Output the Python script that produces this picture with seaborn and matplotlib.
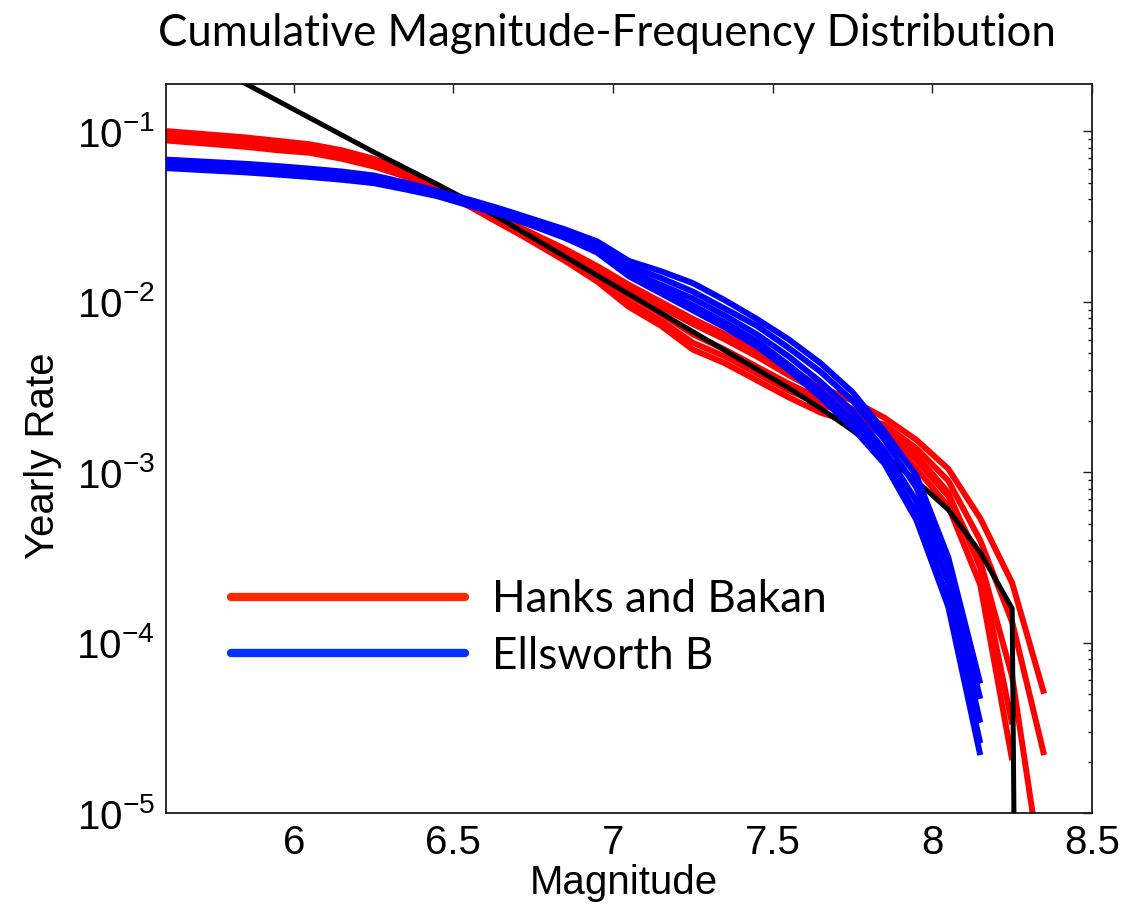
import numpy as np
import pandas as pd
import matplotlib
matplotlib.use("Agg")
import matplotlib.pyplot as plt
import seaborn as sns
from matplotlib.lines import Line2D
from matplotlib.ticker import (LogLocator, LogFormatterMathtext, FixedLocator,
                               FormatStrFormatter, NullFormatter, NullLocator)

# ---------------- data (log10 of yearly rate) ----------------
mag_grid = [5.55, 5.65, 5.75, 5.85, 5.95, 6.05, 6.15, 6.25, 6.35, 6.45,
            6.55, 6.65, 6.75, 6.85, 6.95, 7.05, 7.15, 7.25, 7.35, 7.45,
            7.55, 7.65, 7.75, 7.85, 7.95, 8.05, 8.15, 8.25, 8.35]

# Hanks and Bakan runs (red)
hb_log_run1 = [-0.99, -1.005, -1.02, -1.035, -1.055, -1.075, -1.11, -1.16, -1.23, -1.32,
               -1.41, -1.51, -1.60, -1.69, -1.79, -1.90, -2.00, -2.10, -2.19, -2.29,
               -2.39, -2.50, -2.58, -2.68, -2.81, -2.98, -3.27, -3.65, -4.30]
hb_log_run2 = [-1.02, -1.035, -1.05, -1.065, -1.085, -1.10, -1.135, -1.185, -1.25, -1.335,
               -1.425, -1.53, -1.64, -1.75, -1.87, -2.00, -2.11, -2.24, -2.32, -2.42,
               -2.52, -2.60, -2.67, -2.72, -2.86, -3.05, -3.40, -3.88, -4.66]
hb_log_run3 = [-1.00, -1.015, -1.03, -1.045, -1.065, -1.085, -1.12, -1.17, -1.24, -1.325,
               -1.415, -1.52, -1.62, -1.71, -1.82, -1.93, -2.03, -2.13, -2.22, -2.32,
               -2.43, -2.53, -2.63, -2.76, -2.93, -3.14, -3.52, -4.20, -5.45]
hb_log_run4 = [-1.03, -1.045, -1.06, -1.075, -1.095, -1.115, -1.15, -1.20, -1.26, -1.345,
               -1.435, -1.54, -1.65, -1.76, -1.88, -2.03, -2.14, -2.28, -2.36, -2.46,
               -2.56, -2.65, -2.71, -2.75, -2.90, -3.12, -3.56, -4.48, None]
hb_log_run5 = [-1.045, -1.06, -1.075, -1.09, -1.11, -1.125, -1.16, -1.205, -1.265, -1.35,
               -1.44, -1.545, -1.645, -1.74, -1.85, -1.96, -2.07, -2.19, -2.28, -2.38,
               -2.48, -2.57, -2.66, -2.79, -2.98, -3.20, -3.66, -4.69, None]

# Ellsworth B runs (blue)
ell_log_run1 = [-1.16, -1.17, -1.18, -1.19, -1.203, -1.218, -1.235, -1.258, -1.30, -1.35,
                -1.40, -1.455, -1.515, -1.575, -1.645, -1.76, -1.82, -1.89, -1.99, -2.10,
                -2.22, -2.36, -2.53, -2.76, -3.02, -3.50, -4.24, None, None]
ell_log_run2 = [-1.175, -1.185, -1.195, -1.205, -1.218, -1.232, -1.248, -1.27, -1.31, -1.36,
                -1.415, -1.47, -1.535, -1.60, -1.67, -1.79, -1.86, -1.94, -2.04, -2.14,
                -2.27, -2.41, -2.58, -2.81, -3.09, -3.56, -4.33, None, None]
ell_log_run3 = [-1.19, -1.20, -1.21, -1.22, -1.233, -1.247, -1.263, -1.283, -1.322, -1.37,
                -1.425, -1.48, -1.545, -1.61, -1.69, -1.82, -1.90, -1.98, -2.08, -2.19,
                -2.32, -2.47, -2.64, -2.87, -3.17, -3.65, -4.47, None, None]
ell_log_run4 = [-1.20, -1.21, -1.22, -1.23, -1.243, -1.257, -1.273, -1.293, -1.33, -1.375,
                -1.43, -1.485, -1.55, -1.62, -1.70, -1.83, -1.93, -2.02, -2.12, -2.23,
                -2.37, -2.52, -2.69, -2.92, -3.24, -3.75, -4.59, None, None]
ell_log_run5 = [-1.21, -1.22, -1.23, -1.24, -1.253, -1.267, -1.283, -1.303, -1.34, -1.38,
                -1.435, -1.49, -1.555, -1.625, -1.71, -1.85, -1.95, -2.05, -2.15, -2.26,
                -2.40, -2.56, -2.74, -2.95, -3.28, -3.79, -4.66, None, None]

# Reference (black) curve
ref_mag = [5.55, 5.65, 5.75, 5.85, 5.95, 6.05, 6.15, 6.25, 6.35, 6.45,
           6.55, 6.65, 6.75, 6.85, 6.95, 7.05, 7.15, 7.25, 7.35, 7.45,
           7.55, 7.65, 7.75, 7.85, 7.95, 8.05, 8.15, 8.25, 8.26]
ref_log = [-0.42, -0.52, -0.62, -0.72, -0.82, -0.92, -1.02, -1.12, -1.215, -1.31,
           -1.41, -1.515, -1.625, -1.735, -1.845, -1.955, -2.065, -2.175, -2.285, -2.395,
           -2.505, -2.625, -2.755, -2.90, -3.05, -3.22, -3.47, -3.80, -6.0]

legend_labels = ["Hanks and Bakan", "Ellsworth B"]
x_ticks = [6, 6.5, 7, 7.5, 8, 8.5]
y_ticks = [1e-5, 1e-4, 1e-3, 1e-2, 1e-1]


def to_frame(runs, name):
    rows = []
    for k, run in enumerate(runs):
        for m, v in zip(mag_grid, run):
            if v is not None:
                rows.append({"magnitude": m, "rate": 10.0 ** v, "run": f"{name}{k}"})
    return pd.DataFrame(rows)


df_hb = to_frame([hb_log_run1, hb_log_run2, hb_log_run3, hb_log_run4, hb_log_run5], "hb")
df_ell = to_frame([ell_log_run1, ell_log_run2, ell_log_run3, ell_log_run4, ell_log_run5], "ell")
df_ref = pd.DataFrame({"magnitude": ref_mag, "rate": [10.0 ** v for v in ref_log]})

# ---------------- style ----------------
sns.set_style("white")
plt.rcParams["font.family"] = ["Liberation Sans", "DejaVu Sans"]
plt.rcParams["mathtext.fontset"] = "custom"
plt.rcParams["mathtext.rm"] = "Liberation Sans"
plt.rcParams["mathtext.it"] = "Liberation Sans:italic"
plt.rcParams["mathtext.bf"] = "Liberation Sans:bold"
plt.rcParams["mathtext.sf"] = "Liberation Sans"
plt.rcParams["text.color"] = "black"
plt.rcParams["axes.labelcolor"] = "black"
plt.rcParams["xtick.color"] = "black"
plt.rcParams["ytick.color"] = "black"

fig = plt.figure(figsize=(11.27, 9.11), dpi=100)
ax = fig.add_axes([166 / 1127, 1 - 813 / 911, (1092 - 166) / 1127, (813 - 84) / 911])

line_kw = dict(solid_capstyle="butt", solid_joinstyle="round")
sns.lineplot(data=df_hb, x="magnitude", y="rate", units="run", estimator=None,
             color="#ff0000", linewidth=4.3, sort=False, legend=False, ax=ax,
             zorder=2, **line_kw)
sns.lineplot(data=df_ref, x="magnitude", y="rate", estimator=None,
             color="#000000", linewidth=3.6, sort=False, legend=False, ax=ax,
             zorder=3, **line_kw)
sns.lineplot(data=df_ell, x="magnitude", y="rate", units="run", estimator=None,
             color="#0000ff", linewidth=4.3, sort=False, legend=False, ax=ax,
             zorder=4, **line_kw)

ax.set_yscale("log")
ax.set_xlim(5.6, 8.5)
ax.set_ylim(1e-5, 0.19)

ax.xaxis.set_major_locator(FixedLocator(x_ticks))
ax.xaxis.set_major_formatter(FormatStrFormatter("%g"))
ax.xaxis.set_minor_locator(NullLocator())
ax.yaxis.set_major_locator(FixedLocator(y_ticks))
ax.yaxis.set_major_formatter(LogFormatterMathtext())
ax.yaxis.set_minor_locator(LogLocator(base=10, subs=[2, 3, 4, 5, 6, 7, 8, 9], numticks=20))
ax.yaxis.set_minor_formatter(NullFormatter())

ax.tick_params(which="both", direction="in", top=True, right=True, colors="#1a1a1a",
               labelcolor="black", width=1.0)
ax.tick_params(which="major", length=6.5, labelsize=29, pad=8)
ax.tick_params(which="minor", length=3.2)
for s in ax.spines.values():
    s.set_linewidth(1.3)
    s.set_color("#1a1a1a")

ax.set_xlabel("Magnitude", fontsize=29, color="black")
ax.set_ylabel("Yearly Rate", fontsize=29, color="black")
ax.xaxis.set_label_coords((624 - 166) / 926, (813 - 864) / 729)
ax.yaxis.set_label_coords((62 - 166) / 926, 0.49)

fig.text(607 / 1127, 1 - 46 / 911, "Cumulative Magnitude-Frequency Distribution",
         ha="center", va="baseline", fontsize=31.5, color="black",
         family=["Lato", "DejaVu Sans"])

handles = [Line2D([], [], color="#ff2a00", linewidth=6),
           Line2D([], [], color="#0033ff", linewidth=6)]
leg = ax.legend(handles, legend_labels, loc="center left",
                bbox_to_anchor=((231 - 166) / 926, (813 - 628) / 729),
                frameon=False, borderpad=0, borderaxespad=0,
                handlelength=5.3, handletextpad=0.6, labelspacing=0.36,
                prop={"family": ["Lato", "DejaVu Sans"], "size": 31.8})
for t in leg.get_texts():
    t.set_color("black")

fig.savefig("out.png", dpi=100, facecolor="white")
